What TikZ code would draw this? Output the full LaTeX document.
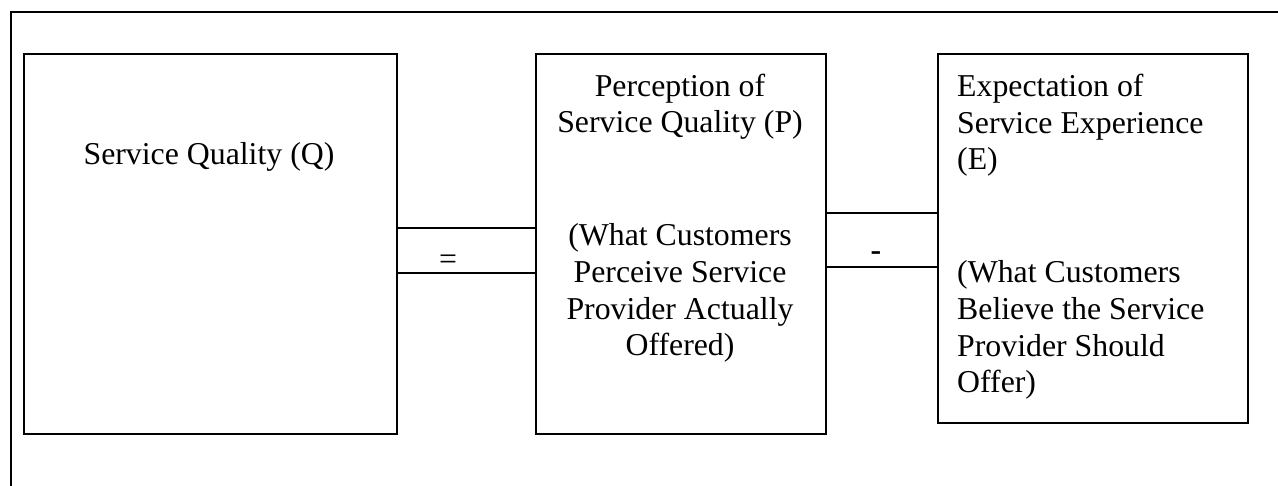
\documentclass[tikz,border=0pt]{standalone}
\usepackage{fontspec}
\setmainfont{Liberation Serif}
\begin{document}
\begin{tikzpicture}[x=1pt,y=-1pt,
    box/.style={draw, line width=2.2pt, minimum width=#1, inner sep=0pt, anchor=north west},
    txt/.style={inner sep=0pt, font=\fontsize{31.8}{36.7}\selectfont},
    link/.style={line width=2.2pt}]
  \useasboundingbox (0,0) rectangle (1278,486);
  % outer frame, running off the page on the right and at the bottom
  \draw[line width=2.2pt] (11,486) -- (11,12) -- (1278,12);

  % the three boxes
  \node[box=373pt, minimum height=380pt] (q) at (23,53) {};
  \node[box=290pt, minimum height=380pt] (p) at (535,53) {};
  \node[box=310pt, minimum height=369pt] (e) at (937,53) {};

  % box texts (multi-line nodes sit on the baseline of their last line)
  \node[txt, anchor=base] (qt) at (209,165) {Service Quality (Q)};
  \node[txt, anchor=base, align=center] (pt1) at (680,133) {Perception of\\Service Quality (P)};
  \node[txt, anchor=base, align=center] (pt2) at (680,356) {(What Customers\\Perceive Service\\Provider Actually\\Offered)};
  \node[txt, anchor=base west, align=left] (et1) at (957,170) {Expectation of\\Service Experience\\(E)};
  \node[txt, anchor=base west, align=left] (et2) at (957,393) {(What Customers\\Believe the Service\\Provider Should\\Offer)};

  % "=" link between Q and P
  \draw[link] (q.east |- 0,228) -- (p.west |- 0,228);
  \draw[link] (q.east |- 0,273) -- (p.west |- 0,273);
  \node[txt, anchor=base] (eq) at (448,270) {=};

  % "-" link between P and E
  \draw[link] (p.east |- 0,213) -- (e.west |- 0,213);
  \draw[link] (p.east |- 0,267) -- (e.west |- 0,267);
  \node[txt, anchor=base, font=\fontsize{31.8}{36.7}\selectfont\bfseries] (mi) at (876,261) {-};
\end{tikzpicture}
\end{document}
